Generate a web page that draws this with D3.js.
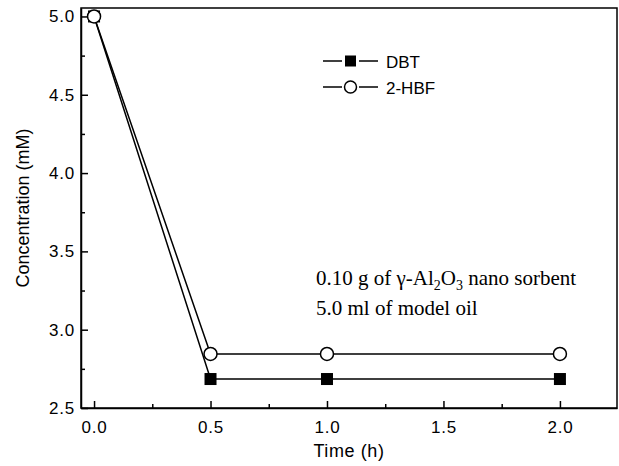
<!DOCTYPE html>
<html>
<head>
<meta charset="utf-8">
<script src="https://cdn.jsdelivr.net/npm/d3@7"></script>
<style>
  body { margin: 0; background: #fff; }
  svg { display: block; }
  .tick text { font-family: "Liberation Sans", Arial, sans-serif; font-size: 17px; letter-spacing: 0.8px; fill: #000; }
</style>
</head>
<body>
<svg id="chart" width="619" height="466"></svg>
<script>
// data
const times = [0, 0.5, 1.0, 2.0]
const dbt = [5.0, 2.685, 2.685, 2.685]
const hbf = [5.0, 2.845, 2.845, 2.845]
const xTicks = [0, 0.5, 1.0, 1.5, 2.0]
const yTicks = [2.5, 3.0, 3.5, 4.0, 4.5, 5.0]
const seriesNames = ['DBT', '2-HBF']

const svg = d3.select('#chart')
const plotL = 81, plotR = 617, plotT = 8, plotB = 408

const x = d3.scaleLinear().domain([-0.056, 2.245]).range([plotL, plotR])
const y = d3.scaleLinear().domain([2.5, 5.054]).range([plotB, plotT])

// frame
svg.append('rect')
  .attr('x', plotL).attr('y', plotT)
  .attr('width', plotR - plotL).attr('height', plotB - plotT)
  .attr('fill', 'none').attr('stroke', '#000').attr('stroke-width', 1.5)

// axes, ticks inward
const xAxis = svg.append('g').attr('transform', 'translate(0,' + plotB + ')')
  .call(d3.axisBottom(x).tickValues(xTicks).tickFormat(d3.format('.1f')).tickSizeInner(-7).tickSizeOuter(0).tickPadding(13))
xAxis.select('.domain').attr('stroke-width', 1.5)
xAxis.selectAll('.tick line').attr('stroke-width', 1.5)
svg.append('g').attr('transform', 'translate(0,' + plotB + ')')
  .call(d3.axisBottom(x).tickValues([0.25, 0.75, 1.25, 1.75]).tickFormat('').tickSizeInner(-4).tickSizeOuter(0))
  .call(g => g.select('.domain').remove())
  .selectAll('.tick line').attr('stroke-width', 1.5)

const yAxis = svg.append('g').attr('transform', 'translate(' + plotL + ',0)')
  .call(d3.axisLeft(y).tickValues(yTicks).tickFormat(d3.format('.1f')).tickSizeInner(-7).tickSizeOuter(0).tickPadding(6))
yAxis.select('.domain').attr('stroke-width', 1.5)
yAxis.selectAll('.tick line').attr('stroke-width', 1.5)
svg.append('g').attr('transform', 'translate(' + plotL + ',0)')
  .call(d3.axisLeft(y).tickValues([2.75, 3.25, 3.75, 4.25, 4.75]).tickFormat('').tickSizeInner(-4).tickSizeOuter(0))
  .call(g => g.select('.domain').remove())
  .selectAll('.tick line').attr('stroke-width', 1.5)

// axis titles
svg.append('text')
  .attr('x', (plotL + plotR) / 2).attr('y', 457)
  .attr('text-anchor', 'middle')
  .style('font-family', '"Liberation Sans", Arial, sans-serif').style('font-size', '18px').style('letter-spacing', '0.6px')
  .text('Time (h)')
svg.append('text')
  .attr('transform', 'translate(29,' + ((plotT + plotB) / 2) + ') rotate(-90)')
  .attr('text-anchor', 'middle')
  .style('font-family', '"Liberation Sans", Arial, sans-serif').style('font-size', '18px')
  .text('Concentration (mM)')

const line = d3.line().x(d => x(d[0])).y(d => y(d[1]))
const dbtPts = times.map((t, i) => [t, dbt[i]])
const hbfPts = times.map((t, i) => [t, hbf[i]])

svg.append('path').attr('d', line(dbtPts)).attr('fill', 'none').attr('stroke', '#000').attr('stroke-width', 1.5)
svg.append('path').attr('d', line(hbfPts)).attr('fill', 'none').attr('stroke', '#000').attr('stroke-width', 1.5)

svg.selectAll('.sq').data(dbtPts).enter().append('rect')
  .attr('x', d => x(d[0]) - 6).attr('y', d => y(d[1]) - 6)
  .attr('width', 12).attr('height', 12)
  .attr('fill', '#000')
svg.selectAll('.ci').data(hbfPts).enter().append('circle')
  .attr('cx', d => x(d[0])).attr('cy', d => y(d[1])).attr('r', 6.5)
  .attr('fill', '#fff').attr('stroke', '#000').attr('stroke-width', 1.5)

// legend: line - marker - line, with small gaps
const legend = svg.append('g')
seriesNames.forEach(function (name, i) {
  const ly = 61 + i * 26
  legend.append('line').attr('x1', 323).attr('x2', 342).attr('y1', ly).attr('y2', ly)
    .attr('stroke', '#000').attr('stroke-width', 1.5)
  legend.append('line').attr('x1', 359).attr('x2', 378).attr('y1', ly).attr('y2', ly)
    .attr('stroke', '#000').attr('stroke-width', 1.5)
  if (i === 0) {
    legend.append('rect').attr('x', 345).attr('y', ly - 5.5).attr('width', 11).attr('height', 11).attr('fill', '#000')
  } else {
    legend.append('circle').attr('cx', 350.5).attr('cy', ly).attr('r', 6)
      .attr('fill', '#fff').attr('stroke', '#000').attr('stroke-width', 1.5)
  }
  legend.append('text').attr('x', 386).attr('y', ly + 6.5)
    .style('font-family', '"Liberation Sans", Arial, sans-serif').style('font-size', '17px')
    .text(name)
})

// annotation
const note = svg.append('g')
  .style('font-family', '"Liberation Serif", "Times New Roman", serif').style('font-size', '21px')
const t1 = note.append('text').attr('x', 316).attr('y', 285)
t1.append('tspan').text('0.10 g of γ-Al')
t1.append('tspan').attr('dy', 5).style('font-size', '14px').text('2')
t1.append('tspan').attr('dy', -5).text('O')
t1.append('tspan').attr('dy', 5).style('font-size', '14px').text('3')
t1.append('tspan').attr('dy', -5).text(' nano sorbent')
note.append('text').attr('x', 316).attr('y', 315).text('5.0 ml of model oil')
</script>
</body>
</html>
